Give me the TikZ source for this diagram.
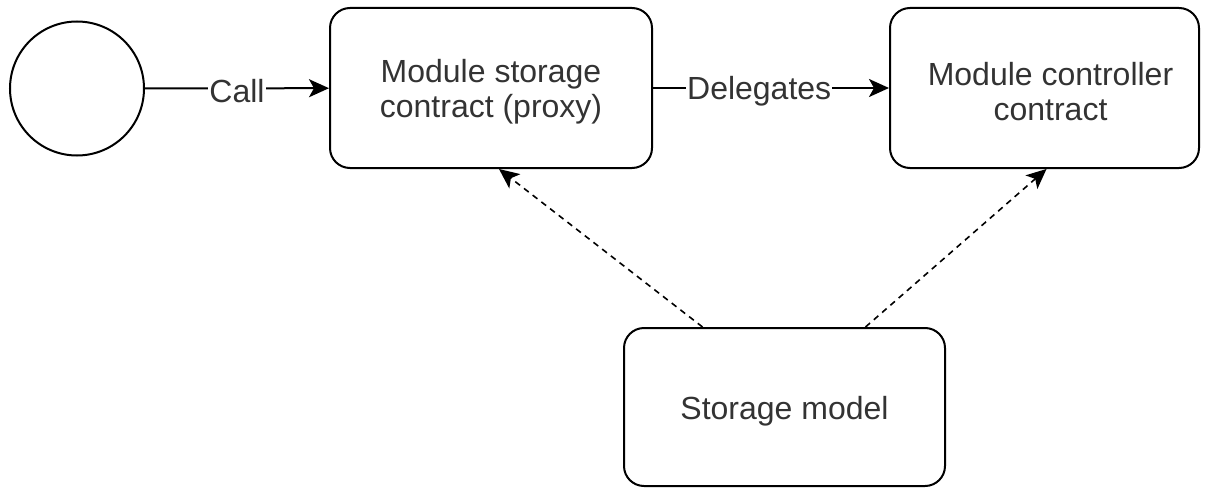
\documentclass[tikz,border=0pt]{standalone}
\usepackage{fontspec}
\setmainfont{Liberation Sans}
\usetikzlibrary{arrows.meta}
\definecolor{txt}{gray}{0.2}
\begin{document}
\begin{tikzpicture}[x=1pt,y=-1pt,
  every node/.style={font=\fontsize{32}{35}\selectfont,text=txt},
  box/.style={draw,line width=2pt,rounded corners=20pt,inner sep=0pt},
  boxtext/.style={align=center,inner sep=0pt,yshift=-4pt},
  conn/.style={line width=2pt,-{Stealth[length=20pt,width=18pt,inset=5pt]}},
  dconn/.style={line width=1.6pt,dash pattern=on 6pt off 5pt,-{Stealth[length=20pt,width=18pt,inset=5pt]}},
  lbl/.style={fill=white,inner sep=1pt,yshift=-3pt}]
\useasboundingbox (0,0) rectangle (1206,487);
\node[draw,circle,line width=2pt,minimum size=134pt,inner sep=0pt] (start) at (77,88.5) {};
\node[box,minimum width=322pt,minimum height=160pt] (proxy) at (491,88) {};
\node[boxtext] (proxyT) at (proxy.center) {Module storage\\contract (proxy)};
\node[box,minimum width=309pt,minimum height=160pt] (ctrl) at (1044.5,88) {};
\node[boxtext,xshift=6pt] (ctrlT) at (ctrl.center) {Module controller\\contract};
\node[box,minimum width=321pt,minimum height=158pt] (model) at (784.5,407) {};
\node[boxtext] (modelT) at (model.center) {Storage model};
\draw[conn] (start) -- node[lbl] {Call} (proxy);
\draw[conn] (proxy) -- node[lbl,pos=0.45] {Delegates} (ctrl);
\draw[dconn] ([xshift=-82pt]model.north) -- ([xshift=8pt]proxy.south);
\draw[dconn] ([xshift=81pt]model.north) -- ([xshift=2pt]ctrl.south);
\end{tikzpicture}
\end{document}
